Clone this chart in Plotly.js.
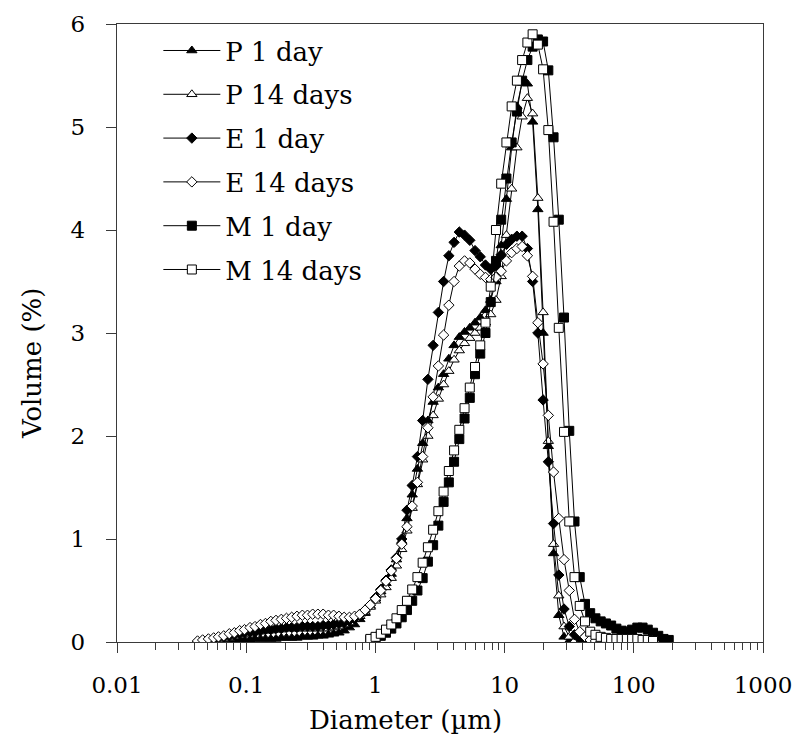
<!DOCTYPE html>
<html>
<head>
<meta charset="utf-8">
<script src="https://cdn.plot.ly/plotly-3.0.1.min.js"></script>
<style>html,body{margin:0;padding:0;background:#fff;}#chart{width:797px;height:742px;}</style>
</head>
<body>
<div id="chart"></div>
<script>
// Particle-size channel centres (µm)
const diameters = [0.042,0.046,0.051,0.056,0.061,0.067,0.074,0.081,0.089,0.097,
0.107,0.117,0.129,0.141,0.155,0.170,0.187,0.205,0.225,0.247,
0.272,0.298,0.327,0.359,0.394,0.433,0.475,0.522,0.573,0.629,
0.690,0.758,0.832,0.913,1.003,1.101,1.208,1.327,1.456,1.599,
1.755,1.927,2.115,2.322,2.549,2.798,3.072,3.372,3.702,4.064,
4.462,4.898,5.377,5.903,6.481,7.114,7.810,8.574,9.412,10.33,
11.34,12.45,13.67,15.01,16.48,18.09,19.86,21.80,23.93,26.27,
28.84,31.66,34.76,38.16,41.89,45.98,50.48,55.42,60.84,66.79,
73.32,80.49,88.36,97.01,106.5,116.9,128.3,140.9,154.7,169.8,
186.4];

const p1day = [0.00,0.00,0.00,0.01,0.01,0.01,0.01,0.02,0.02,0.02,
0.02,0.03,0.03,0.03,0.03,0.03,0.04,0.04,0.04,0.04,
0.05,0.05,0.05,0.06,0.06,0.07,0.08,0.09,0.11,0.14,
0.17,0.22,0.28,0.35,0.42,0.49,0.57,0.66,0.80,0.98,
1.20,1.43,1.68,1.93,2.15,2.33,2.47,2.60,2.75,2.88,
2.96,3.01,3.05,3.10,3.15,3.22,3.32,3.50,3.85,4.30,
4.80,5.20,5.43,5.42,5.05,4.20,3.00,1.90,0.86,0.26,
0.05,0.01,0.00,0.00,0.00,0.00,null,null,null,null,
null,null,null,null,null,null,null,null,null,null,
null];

const p14days = [0.00,0.00,0.01,0.01,0.02,0.03,0.04,0.05,0.06,0.07,
0.08,0.09,0.10,0.11,0.11,0.12,0.12,0.13,0.13,0.13,
0.13,0.13,0.13,0.13,0.13,0.13,0.14,0.15,0.17,0.19,
0.22,0.25,0.29,0.34,0.40,0.46,0.53,0.62,0.74,0.90,
1.08,1.30,1.53,1.77,2.00,2.20,2.36,2.50,2.63,2.74,
2.83,2.90,2.95,3.00,3.05,3.10,3.18,3.32,3.55,3.95,
4.40,4.80,5.10,5.28,5.13,4.31,3.20,1.95,0.95,0.45,
0.15,0.05,0.01,0.00,0.00,0.00,null,null,null,null,
null,null,null,null,null,null,null,null,null,null,
null];

const e1day = [0.00,0.01,0.02,0.03,0.04,0.05,0.06,0.07,0.08,0.09,
0.10,0.10,0.11,0.12,0.12,0.13,0.13,0.14,0.14,0.14,
0.15,0.15,0.15,0.15,0.16,0.16,0.17,0.18,0.19,0.21,
0.23,0.26,0.30,0.36,0.43,0.51,0.60,0.70,0.82,1.00,
1.28,1.52,1.80,2.15,2.55,2.88,3.20,3.50,3.75,3.88,
3.98,3.95,3.90,3.80,3.74,3.66,3.62,3.65,3.76,3.86,
3.91,3.94,3.94,3.82,3.50,3.00,2.35,1.75,1.15,0.65,
0.32,0.15,0.07,0.03,0.02,0.01,0.00,0.00,0.00,0.00,
null,null,null,null,null,null,null,null,null,null,
null];

const e14days = [0.01,0.02,0.03,0.04,0.05,0.06,0.08,0.09,0.11,0.12,
0.14,0.15,0.17,0.18,0.20,0.21,0.22,0.23,0.24,0.25,
0.26,0.26,0.27,0.27,0.27,0.26,0.26,0.25,0.24,0.24,
0.25,0.27,0.31,0.36,0.42,0.50,0.59,0.69,0.81,0.95,
1.12,1.32,1.55,1.80,2.08,2.38,2.68,2.98,3.27,3.50,
3.65,3.70,3.68,3.62,3.57,3.54,3.52,3.54,3.60,3.70,
3.78,3.82,3.84,3.75,3.55,3.10,2.70,2.20,1.65,1.20,
0.80,0.50,0.22,0.10,0.05,0.02,0.01,0.00,0.00,0.00,
null,null,null,null,null,null,null,null,null,null,
null];

const m1day = [null,null,null,null,null,null,null,null,null,null,
null,null,null,null,null,null,null,null,null,null,
null,null,null,null,null,null,null,null,null,null,
null,null,null,0.02,0.04,0.06,0.09,0.13,0.18,0.24,
0.31,0.40,0.50,0.62,0.78,0.94,1.13,1.36,1.55,1.75,
1.97,2.17,2.37,2.60,2.80,3.00,3.30,3.70,4.10,4.50,
4.85,5.15,5.45,5.65,5.78,5.85,5.83,5.55,4.90,4.10,
3.15,2.05,1.17,0.63,0.37,0.28,0.23,0.20,0.18,0.16,
0.13,0.11,0.10,0.12,0.14,0.14,0.12,0.09,0.06,0.03,
0.02];

const m14days = [null,null,null,null,null,null,null,null,null,null,
null,null,null,null,null,null,null,null,null,null,
null,null,null,null,null,null,null,null,null,null,
null,null,null,0.03,0.05,0.08,0.12,0.17,0.23,0.31,
0.40,0.51,0.63,0.77,0.92,1.09,1.27,1.46,1.66,1.86,
2.06,2.27,2.47,2.67,2.88,3.10,3.45,4.00,4.45,4.85,
5.20,5.45,5.65,5.82,5.90,5.80,5.56,4.97,4.08,3.05,
2.04,1.17,0.63,0.35,0.20,0.10,0.07,0.05,0.04,0.03,
0.03,0.03,0.03,0.03,0.03,0.02,0.02,0.01,null,null,
null];

const seriesNames = ["P 1 day","P 14 days","E 1 day","E 14 days","M 1 day","M 14 days"];
const xTickVals = [0.01,0.1,1,10,100,1000];
const xTickText = ["0.01","0.1","1","10","100","1000"];
const yTickVals = [0,1,2,3,4,5,6];
const xTitle = "Diameter (µm)";
const yTitle = "Volume (%)";

const seriesData = [p1day,p14days,e1day,e14days,m1day,m14days];
const symbols = ["triangle-up","triangle-up","diamond","diamond","square","square"];
const fills = ["black","white","black","white","black","white"];
const sizes = [9,9,8,8,9,9];

const traces = seriesData.map((ys,k)=>({
  x: diameters, y: ys, name: seriesNames[k],
  type: "scatter", mode: "lines+markers",
  connectgaps: false,
  legendgroup: "g"+k,
  line: {color: "black", width: 1},
  marker: {symbol: symbols[k], size: sizes[k], color: fills[k], line: {color: "black", width: 1}}
}));

const axisColor = "#3a3a3a";
const layout = {
  width: 797, height: 742,
  margin: {l: 117, r: 34, t: 24, b: 100},
  paper_bgcolor: "white", plot_bgcolor: "white",
  font: {family: "DejaVu Serif", color: "black", size: 23},
  showlegend: true,
  legend: {
    x: 0.064, y: 0.995, xanchor: "left", yanchor: "top",
    bgcolor: "rgba(0,0,0,0)", borderwidth: 0,
    font: {family: "DejaVu Serif", size: 26, color: "black"},
    traceorder: "grouped", tracegroupgap: 7, itemwidth: 57
  },
  xaxis: {
    type: "log", range: [-2, 3],
    tickmode: "array", tickvals: xTickVals, ticktext: xTickText,
    ticks: "outside", ticklen: 10, tickwidth: 1, tickcolor: axisColor,
    minor: {ticks: "outside", ticklen: 7, tickwidth: 1, tickcolor: axisColor, dtick: "D1", showgrid: false},
    showline: true, linecolor: axisColor, linewidth: 1.3, mirror: true,
    showgrid: false, zeroline: false,
    tickfont: {family: "DejaVu Serif", size: 23, color: "black"},
    ticklabelstandoff: 12
  },
  yaxis: {
    range: [0, 6], tickmode: "array", tickvals: yTickVals,
    ticks: "outside", ticklen: 10, tickwidth: 1, tickcolor: axisColor,
    showline: true, linecolor: axisColor, linewidth: 1.3, mirror: true,
    showgrid: false, zeroline: false,
    tickfont: {family: "DejaVu Serif", size: 23, color: "black"},
    ticklabelstandoff: 16
  },
  annotations: [
    {text: xTitle, xref: "paper", yref: "paper", x: (405-117)/646, y: -(720-642)/618,
     xanchor: "center", yanchor: "middle", showarrow: false,
     font: {family: "DejaVu Serif", size: 26, color: "black"}},
    {text: yTitle, xref: "paper", yref: "paper", x: (32-117)/646, y: (642-364)/618,
     xanchor: "center", yanchor: "middle", showarrow: false, textangle: -90,
     font: {family: "DejaVu Serif", size: 26, color: "black"}}
  ]
};

Plotly.newPlot("chart", traces, layout, {displayModeBar: false, staticPlot: true});
</script>
</body>
</html>
